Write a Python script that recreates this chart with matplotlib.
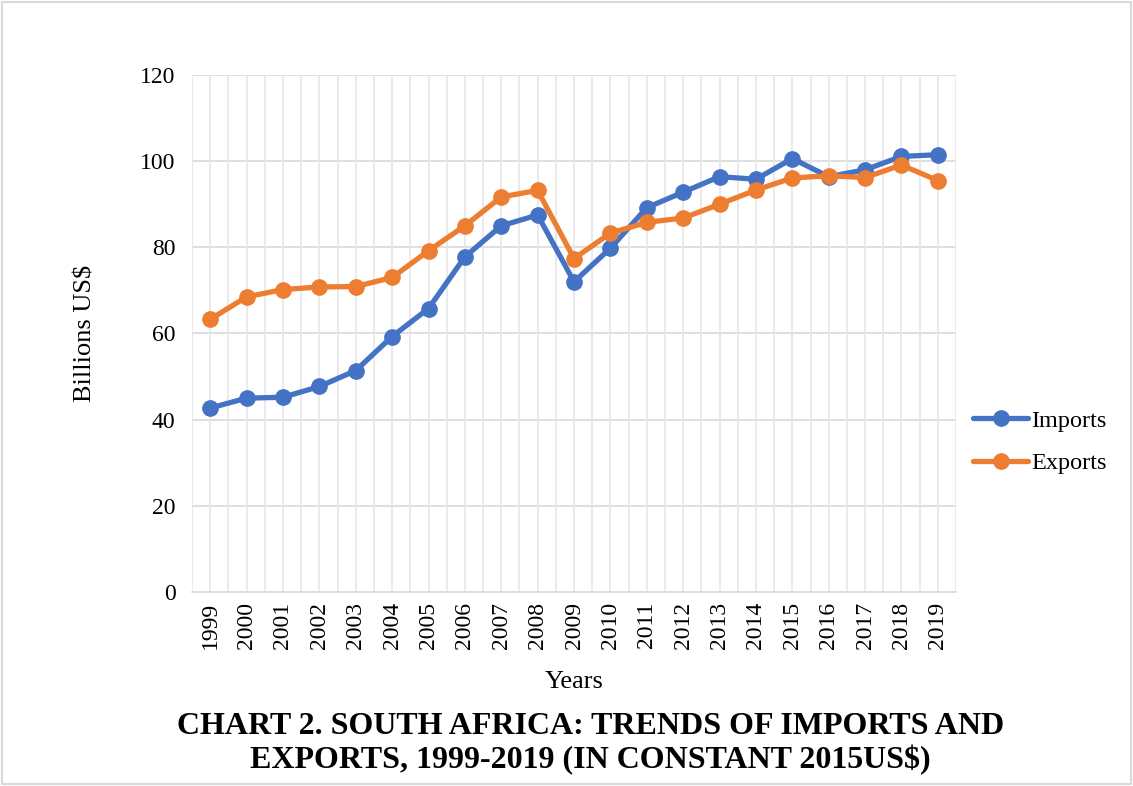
import matplotlib
matplotlib.use("Agg")
import matplotlib.pyplot as plt
from matplotlib.patches import Rectangle
import numpy as np

# data (billions US$, constant 2015)
years = [str(y) for y in range(1999, 2020)]
imports = [42.7, 45.0, 45.2, 47.7, 51.4, 59.3, 65.8, 77.8, 85.0, 87.5, 72.0,
           79.8, 89.2, 92.8, 96.4, 95.8, 100.6, 96.4, 98.0, 101.1, 101.5]
exports = [63.3, 68.5, 70.2, 70.8, 70.9, 73.0, 79.2, 85.0, 91.7, 93.2, 77.4,
           83.3, 85.8, 86.8, 90.0, 93.3, 96.1, 96.6, 96.2, 99.1, 95.5]

plt.rcParams["font.family"] = ["Liberation Serif", "DejaVu Serif"]

fig = plt.figure(figsize=(11.33, 7.86), dpi=100)
ax = fig.add_axes([0.1695, 0.2468, 0.6743, 0.6578])

x = np.arange(len(years))
ax.plot(x, imports, color="#4472C4", lw=3.8, marker="o", ms=11, label="Imports",
        solid_capstyle="round", zorder=3)
ax.plot(x, exports, color="#ED7D31", lw=3.8, marker="o", ms=11, label="Exports",
        solid_capstyle="round", zorder=3)

ax.set_xlim(-0.5, len(years) - 0.5)
ax.set_ylim(0, 120)
ax.set_yticks(range(0, 121, 20))
ax.set_xticks(x)
ax.set_xticklabels(years, rotation=90, fontsize=17)
ax.tick_params(axis="y", labelsize=17, length=0, pad=12)
ax.tick_params(axis="x", length=0, pad=7)

# gridlines: horizontal at ticks, vertical at centres and boundaries
for yv in range(20, 121, 20):
    ax.axhline(yv, color="#D9D9D9", lw=1.2, zorder=1)
for xv in np.arange(-0.5, len(years), 0.5):
    ax.axvline(xv, color="#E6E6E6", lw=1.2, zorder=1)
for s in ["top", "right", "left"]:
    ax.spines[s].set_visible(False)
ax.spines["bottom"].set_color("#D9D9D9")
ax.spines["bottom"].set_linewidth(1.2)

ax.set_ylabel("Billions US$", fontsize=19, labelpad=31)
ax.set_xlabel("Years", fontsize=19, labelpad=16)

leg = ax.legend(loc="center left", bbox_to_anchor=(0.993, 0.29), frameon=False,
                fontsize=17.5, handlelength=2.3, labelspacing=0.85, handletextpad=0.1)

fig.text(0.521, 0.054, "CHART 2. SOUTH AFRICA: TRENDS OF IMPORTS AND\nEXPORTS, 1999-2019 (IN CONSTANT 2015US$)",
         ha="center", va="center", fontsize=23, fontweight="bold", linespacing=1.2)

# light border round the figure
fig.patches.append(Rectangle((0.002, 0.002), 0.996, 0.996, transform=fig.transFigure,
                             fill=False, edgecolor="#D9D9D9", lw=1.5))

fig.savefig("out.png", dpi=100)
